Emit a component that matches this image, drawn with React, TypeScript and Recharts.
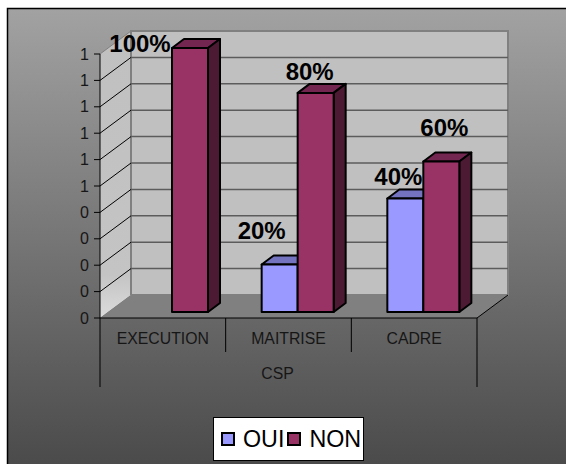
import { BarChart, Bar, XAxis, YAxis, CartesianGrid, Legend, LabelList } from 'recharts';

const categories = ['EXECUTION', 'MAITRISE', 'CADRE'];
const ouiValues = [0, 0.18, 0.43];
const nonValues = [1, 0.83, 0.57];
const ouiLabels = ['', '20%', '40%'];
const nonLabels = ['100%', '80%', '60%'];
const yTicks = [0, 0.1, 0.2, 0.3, 0.4, 0.5, 0.6, 0.7, 0.8, 0.9, 1];

const data = categories.map((name, i) => ({
  name,
  OUI: ouiValues[i],
  NON: nonValues[i],
}));

const FONT = '"Liberation Sans", Arial, sans-serif';
const INK = '#161616';

// fake 3D: depth of the chart box and of the bars
const WALL_DX = 31;
const WALL_DY = -23;
const BAR_DX = 9;
const BAR_DY = -6;
const BAR_DEPTH_X = 12;
const BAR_DEPTH_Y = -9;

// where the plot sits in the 566x464 frame
const LEFT = 100;
const RIGHT = 477;
const TOP = 54;
const BOTTOM = 318;

// sits behind the chart svg, the chart itself has a transparent background
function Backdrop() {
  return (
    <svg width={566} height={464} style={{ position: 'absolute', left: 0, top: 0 }}>
      <defs>
        <linearGradient id="frame" x1="0" y1="0" x2="0" y2="1">
          <stop offset="0%" stopColor="#a2a2a2" />
          <stop offset="100%" stopColor="#484848" />
        </linearGradient>
        <linearGradient id="sideWall" x1="0" y1="0" x2="0" y2="1">
          <stop offset="0%" stopColor="#c0c0c0" />
          <stop offset="85%" stopColor="#c4c4c4" />
          <stop offset="100%" stopColor="#dcdcdc" />
        </linearGradient>
      </defs>
      <rect x={7.5} y={8.5} width={570} height={470} fill="url(#frame)" stroke="#000" strokeWidth={1.5} />
      {/* back wall */}
      <polygon
        points={`${LEFT + WALL_DX},${TOP + WALL_DY} ${RIGHT + WALL_DX},${TOP + WALL_DY} ${RIGHT + WALL_DX},${BOTTOM + WALL_DY} ${LEFT + WALL_DX},${BOTTOM + WALL_DY}`}
        fill="#c0c0c0"
        stroke="#808080"
        strokeWidth={2}
      />
      {/* side wall */}
      <polygon
        points={`${LEFT},${TOP} ${LEFT + WALL_DX},${TOP + WALL_DY} ${LEFT + WALL_DX},${BOTTOM + WALL_DY} ${LEFT},${BOTTOM}`}
        fill="url(#sideWall)"
      />
      {/* floor */}
      <polygon
        points={`${LEFT},${BOTTOM} ${LEFT + WALL_DX},${BOTTOM + WALL_DY} ${RIGHT + WALL_DX},${BOTTOM + WALL_DY} ${RIGHT},${BOTTOM}`}
        fill="#808080"
      />
      <line x1={RIGHT} y1={BOTTOM} x2={RIGHT + WALL_DX} y2={BOTTOM + WALL_DY} stroke="#000" strokeWidth={1} />
      <line x1={LEFT} y1={TOP} x2={LEFT + WALL_DX} y2={TOP + WALL_DY} stroke="#808080" strokeWidth={1} />
      <line x1={LEFT + WALL_DX} y1={TOP + WALL_DY} x2={LEFT + WALL_DX} y2={BOTTOM + WALL_DY} stroke="#808080" strokeWidth={2} />
    </svg>
  );
}

function GridLine(props: any) {
  const { x1, x2, y1 } = props;
  if (y1 >= BOTTOM - 1 || y1 <= TOP + 1) return <g />;
  return (
    <g>
      <line x1={x1} y1={y1} x2={x1 + WALL_DX} y2={y1 + WALL_DY} stroke="#000" strokeWidth={1} />
      <line x1={x1 + WALL_DX} y1={y1 + WALL_DY} x2={x2 + WALL_DX} y2={y1 + WALL_DY} stroke="#5c5c5c" strokeWidth={1.5} />
    </g>
  );
}

function Bar3D(props: any) {
  const { x, y, width, height, fill, side, top } = props;
  if (!height || height <= 0) return <g />;
  const l = x + BAR_DX;
  const r = l + width;
  const t = y + BAR_DY;
  const b = t + height;
  return (
    <g stroke="#000" strokeWidth={2} strokeLinejoin="round">
      <polygon points={`${l},${t} ${l + BAR_DEPTH_X},${t + BAR_DEPTH_Y} ${r + BAR_DEPTH_X},${t + BAR_DEPTH_Y} ${r},${t}`} fill={top} />
      <polygon points={`${r},${t} ${r + BAR_DEPTH_X},${t + BAR_DEPTH_Y} ${r + BAR_DEPTH_X},${b + BAR_DEPTH_Y} ${r},${b}`} fill={side} />
      <rect x={l} y={t} width={width} height={height} fill={fill} />
    </g>
  );
}

// the data labels of the source sit off-centre, nudged by hand per label
const labelNudge: Record<string, [number, number]> = {
  '100%': [-50, 4],
  '80%': [-6, -13],
  '20%': [-18, -25],
  '60%': [3, -26],
  '40%': [-7, -13],
};

function PercentLabel(props: any) {
  const { x, y, width, value } = props;
  if (!value) return <g />;
  const [dx, dy] = labelNudge[value] ?? [0, 0];
  return (
    <text
      x={x + BAR_DX + width / 2 + dx}
      y={y + BAR_DY + dy}
      textAnchor="middle"
      fontFamily={FONT}
      fontWeight="bold"
      fontSize={24}
      fill="#000"
    >
      {value}
    </text>
  );
}

function CategoryTick(props: any) {
  const { x, y, payload, index } = props;
  const band = (RIGHT - LEFT) / categories.length;
  const right = x + band / 2;
  const left = x - band / 2;
  return (
    <g>
      {index === 0 && <line x1={left} y1={y} x2={left} y2={y + 69} stroke="#000" strokeWidth={1} />}
      <line
        x1={right}
        y1={y}
        x2={right}
        y2={index === categories.length - 1 ? y + 69 : y + 34}
        stroke="#000"
        strokeWidth={1}
      />
      <text x={x} y={y + 26} textAnchor="middle" fontFamily={FONT} fontSize={15.8} fill={INK}>
        {payload.value}
      </text>
    </g>
  );
}

function LegendBox({ payload }: any) {
  return (
    <div
      style={{
        boxSizing: 'border-box',
        width: 151,
        height: 44,
        background: '#fff',
        border: '1px solid #000',
        display: 'flex',
        alignItems: 'center',
        paddingLeft: 7,
        fontFamily: FONT,
        fontSize: 23.3,
        color: '#000',
      }}
    >
      {(payload ?? []).map((entry: any) => (
        <span key={entry.value} style={{ display: 'flex', alignItems: 'center' }}>
          <span
            style={{
              boxSizing: 'border-box',
              width: 14,
              height: 14,
              background: entry.color,
              border: '2px solid #000',
              marginRight: 8,
            }}
          />
          <span style={{ marginRight: entry.value === 'OUI' ? 3 : 0 }}>{entry.value}</span>
        </span>
      ))}
    </div>
  );
}

export default function App() {
  return (
    <div style={{ position: 'absolute', left: 0, top: 0, width: 566, height: 464, background: '#fff', overflow: 'hidden' }}>
      <Backdrop />
      <BarChart
        width={566}
        height={464}
        data={data}
        barSize={36}
        barGap={0}
        margin={{ top: TOP, right: 566 - RIGHT, bottom: 0, left: 0 }}
      >
        <CartesianGrid horizontal={(p: any) => <GridLine {...p} />} vertical={false} />
        <XAxis
          dataKey="name"
          height={464 - BOTTOM}
          axisLine={{ stroke: '#000', strokeWidth: 1 }}
          tickLine={false}
          tickSize={0}
          tickMargin={0}
          interval={0}
          tick={(p: any) => <CategoryTick {...p} />}
          label={{
            value: 'CSP',
            position: 'insideBottom',
            offset: 85,
            dx: -11,
            fontFamily: FONT,
            fontSize: 15.8,
            fill: INK,
          }}
        />
        <YAxis
          width={LEFT}
          domain={[0, 1]}
          ticks={yTicks}
          interval={0}
          tickFormatter={(v: number) => String(Math.round(v))}
          tick={{ fontFamily: FONT, fontSize: 16, fill: INK }}
          tickSize={6}
          tickMargin={5}
          axisLine={{ stroke: '#000', strokeWidth: 1 }}
          tickLine={{ stroke: '#000', strokeWidth: 1 }}
        />
        <Legend
          verticalAlign="middle"
          align="center"
          layout="horizontal"
          itemSorter={null}
          wrapperStyle={{ left: 213, top: 417, width: 151, height: 44, margin: 0, padding: 0 }}
          content={<LegendBox />}
        />
        <Bar
          dataKey="OUI"
          fill="#9999ff"
          isAnimationActive={false}
          shape={(p: any) => <Bar3D {...p} side="#4d4d80" top="#7373bf" />}
        >
          <LabelList dataKey="OUI" content={(p: any) => <PercentLabel {...p} value={ouiLabels[p.index]} />} />
        </Bar>
        <Bar
          dataKey="NON"
          fill="#993366"
          isAnimationActive={false}
          shape={(p: any) => <Bar3D {...p} side="#4d1a33" top="#732650" />}
        >
          <LabelList dataKey="NON" content={(p: any) => <PercentLabel {...p} value={nonLabels[p.index]} />} />
        </Bar>
      </BarChart>
    </div>
  );
}
